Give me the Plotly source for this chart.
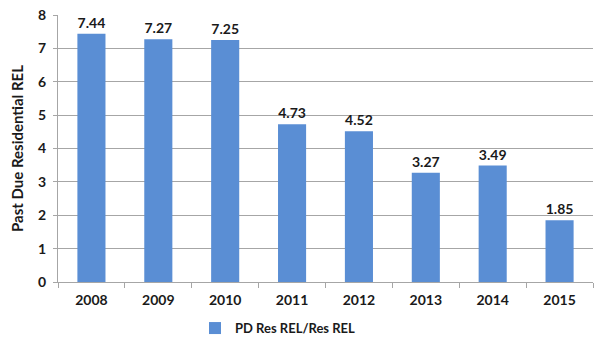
import plotly.graph_objects as go

years = ["2008", "2009", "2010", "2011", "2012", "2013", "2014", "2015"]
past_due_ratio = [7.44, 7.27, 7.25, 4.73, 4.52, 3.27, 3.49, 1.85]
series_name = "PD Res REL/Res REL"
y_ticks = [0, 1, 2, 3, 4, 5, 6, 7, 8]

font_family = "Lato, 'Open Sans', sans-serif"
bar_color = "#5A8ED4"
grid_color = "#A6A6A6"

fig = go.Figure(
    go.Bar(
        x=years,
        y=past_due_ratio,
        name=series_name,
        marker=dict(color=bar_color, line=dict(width=0)),
        text=[f"{v:.2f}" for v in past_due_ratio],
        textposition="outside",
        textfont=dict(family=font_family, size=14, color="#1a1a1a", weight="bold"),
        cliponaxis=False,
        showlegend=True,
    )
)

fig.update_layout(
    width=594,
    height=340,
    margin=dict(l=58, r=1, t=15, b=58),
    paper_bgcolor="white",
    plot_bgcolor="white",
    bargap=0.58,
    font=dict(family=font_family, color="#1a1a1a"),
    showlegend=True,
    legend=dict(
        orientation="h",
        xref="container",
        yref="container",
        x=0.468,
        y=0.035,
        xanchor="center",
        yanchor="middle",
        font=dict(family=font_family, size=13, weight="bold"),
        itemwidth=30,
    ),
)

fig.update_xaxes(
    type="category",
    range=[-0.5, 7.5],
    showline=True,
    linecolor=grid_color,
    linewidth=1,
    ticks="outside",
    tickson="boundaries",
    ticklen=5,
    tickcolor=grid_color,
    ticklabelstandoff=5,
    tickfont=dict(family=font_family, size=14, weight="bold"),
    showgrid=False,
)

fig.update_yaxes(
    range=[0, 8],
    tickvals=y_ticks,
    showline=True,
    linecolor=grid_color,
    linewidth=1,
    ticks="outside",
    ticklen=4,
    tickcolor=grid_color,
    ticklabelstandoff=4,
    showgrid=True,
    gridcolor=grid_color,
    gridwidth=1,
    zeroline=False,
    tickfont=dict(family=font_family, size=14, weight="bold"),
    title=dict(
        text="Past Due Residential REL",
        font=dict(family=font_family, size=15, weight="bold"),
        standoff=10,
    ),
)

fig.write_html("out.html")
